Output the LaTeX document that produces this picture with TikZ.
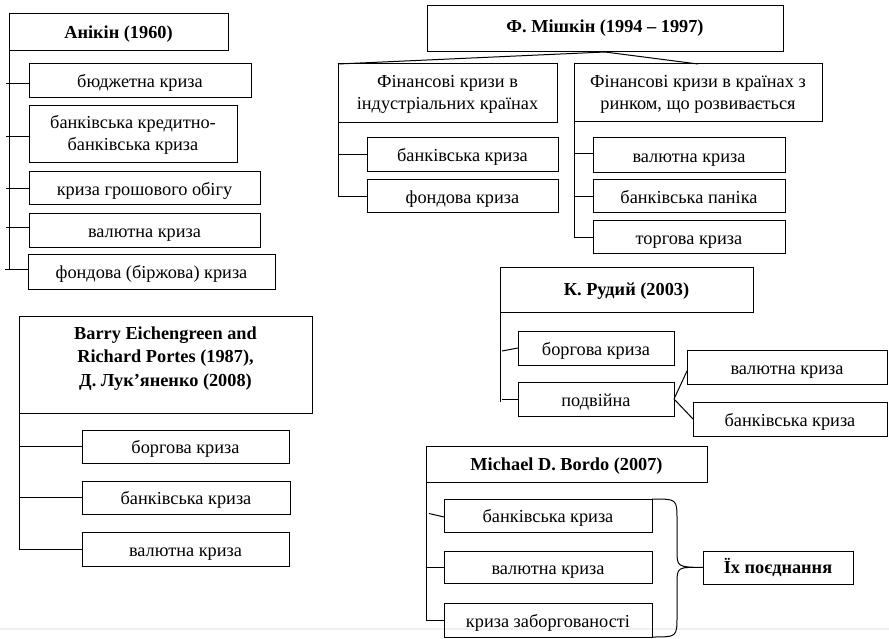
\documentclass[tikz,border=0pt]{standalone}
\usepackage{fontspec}
\setmainfont{Liberation Serif}
\begin{document}
\begin{tikzpicture}[x=1pt,y=-1pt,
  base/.style={draw, line width=1pt, inner sep=0pt, outer sep=0pt, align=center},
  box/.style={base, font=\fontsize{18.3}{22}\selectfont, text height=18pt, text depth=4pt},
  mbox/.style={base, font=\fontsize{18.3}{22}\selectfont, text height=37pt, text depth=4pt},
  hbox/.style={base, font=\fontsize{18.3}{23.5}\selectfont\bfseries, text height=15pt, text depth=4pt},
  ln/.style={line width=1pt}]
\useasboundingbox (0,0) rectangle (889,639);
\draw[gray!12, line width=1.5pt] (0,629) -- (889,629);

% Anikin
\node[hbox, text height=17pt, minimum width=219pt, minimum height=37pt] (an) at (118.5,32.5) {Анікін (1960)};
\node[box, minimum width=222pt, minimum height=34pt] (an1) at (140,81) {бюджетна криза};
\node[mbox, minimum width=208pt, minimum height=57pt] (an2) at (133,134.5) {банківська кредитно-\\банківська криза};
\node[box, minimum width=231pt, minimum height=33pt] (an3) at (144.5,188.5) {криза грошового обігу};
\node[box, minimum width=231pt, minimum height=34pt] (an4) at (144.5,231) {валютна криза};
\node[box, minimum width=247pt, minimum height=34pt] (an5) at (151.5,272) {фондова (біржова) криза};
\coordinate (anb) at (9,269);
\draw[ln] (an.north west) -- (anb);
\foreach \n/\dy in {an1/3,an2/2.5,an3/0,an4/-3,an5/-3}
  \draw[ln] ([yshift=-\dy pt]\n.west) -- ([yshift=-\dy pt, xshift=-23pt]\n.west);

% Mishkin
\node[hbox, text height=12pt, minimum width=356pt, minimum height=46pt] (mi) at (605,29) {Ф. Мішкін (1994 – 1997)};
\node[mbox, minimum width=219pt, minimum height=59pt] (mL) at (447.5,93.5) {Фінансові кризи в\\індустріальних країнах};
\node[mbox, minimum width=248pt, minimum height=58pt] (mR) at (698,93) {Фінансові кризи в країнах з\\ринком, що розвивається};
\node[box, minimum width=191pt, minimum height=34pt] (mL1) at (462.5,155) {банківська криза};
\node[box, minimum width=191pt, minimum height=33pt] (mL2) at (462.5,196.5) {фондова криза};
\node[box, minimum width=192pt, minimum height=35pt] (mR1) at (689,155.5) {валютна криза};
\node[box, minimum width=192pt, minimum height=33pt] (mR2) at (689,196.5) {банківська паніка};
\node[box, minimum width=192pt, minimum height=33pt] (mR3) at (689,237.5) {торгова криза};
\draw[ln] (mi.south) -- (mL.north west);
\draw[ln] (mi.south) -- (mR.north);
\draw[ln] (mL.south west) |- (mL2.west);
\draw[ln] (mL1.west) -- (mL1.west -| mL.west);
\draw[ln] (mR.south west) |- (mR3.west);
\draw[ln] ([yshift=2pt]mR1.west) -- ([yshift=2pt]mR1.west -| mR.west);
\draw[ln] (mR2.west) -- (mR2.west -| mR.west);

% Eichengreen
\node[hbox, text height=47pt, minimum width=293pt, minimum height=97pt] (eg) at (165.5,364.5) {Barry Eichengreen and\\Richard Portes (1987),\\Д. Лук’яненко (2008)};
\node[box, minimum width=207pt, minimum height=33pt] (eg1) at (185.5,446.5) {боргова криза};
\node[box, minimum width=208pt, minimum height=33pt] (eg2) at (186,497.5) {банківська криза};
\node[box, minimum width=207pt, minimum height=34pt] (eg3) at (185.5,549) {валютна криза};
\draw[ln] (eg.south west) |- (eg3.west);
\draw[ln] (eg1.west) -- (eg1.west -| eg.west);
\draw[ln] (eg2.west) -- (eg2.west -| eg.west);

% Rudyi
\node[hbox, minimum width=253pt, minimum height=45pt] (ru) at (626.5,289.5) {К. Рудий (2003)};
\node[box, minimum width=156pt, minimum height=34pt] (ru1) at (596,348) {боргова криза};
\node[box, minimum width=156pt, minimum height=34pt] (ru2) at (596,399) {подвійна};
\node[box, minimum width=200pt, minimum height=34pt] (ru3) at (787,367) {валютна криза};
\node[box, minimum width=194pt, minimum height=34pt] (ru4) at (790,419) {банківська криза};
\coordinate (rub) at (500,402);
\draw[ln] (ru.south west) -- (rub);
\draw[ln] (ru1.west) -- ([xshift=-16pt,yshift=-3pt]ru1.west);
\draw[ln] (ru2.west) -- ([xshift=-16pt]ru2.west);
\draw[ln] (ru2.east) -- ([yshift=-4pt]ru3.west);
\draw[ln] (ru2.east) -- (ru4.west);

% Bordo
\node[hbox, text height=16pt, minimum width=281pt, minimum height=36pt] (bo) at (566.5,464) {Michael D. Bordo (2007)};
\node[box, minimum width=208pt, minimum height=33pt] (bo1) at (548,515.5) {банківська криза};
\node[box, minimum width=208pt, minimum height=32pt] (bo2) at (548,567) {валютна криза};
\node[box, minimum width=208pt, minimum height=34pt] (bo3) at (548,620) {криза заборгованості};
\node[hbox, minimum width=150pt, minimum height=33pt] (bj) at (778,567.5) {Їх поєднання};
\draw[ln] (bo.south west) |- (bo3.west);
\draw[ln] ([yshift=-1.5pt]bo1.west) -- ([xshift=-15pt,yshift=2pt]bo1.west);
\draw[ln] (bo2.west) -- (bo2.west -| bo.west);
\draw[ln] (bo1.north east) .. controls (677,499) .. (677,520) -- (677,550)
  .. controls (677,567) .. (bj.west)
  .. controls (677,567) .. (677,584) -- (677,616)
  .. controls (677,637) .. (bo3.south east);
\end{tikzpicture}
\end{document}
